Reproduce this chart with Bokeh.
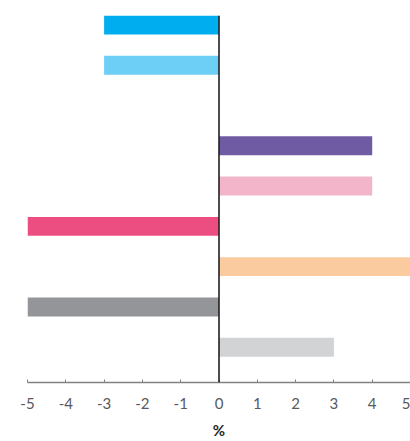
from bokeh.plotting import figure
from bokeh.models import Range1d, Span, ColumnDataSource, FixedTicker
from bokeh.embed import file_html
from bokeh.resources import INLINE

categories = ["A", "B", "C", "D", "E", "F", "G", "H", "I"]
values = [-3, -3, 0, 4, 4, -5, 5, -5, 3]
colors = ["#00AEEF", "#6DCFF6", "#FFFFFF", "#6F5BA3", "#F2B5CA",
          "#EC4E82", "#FACB9F", "#939598", "#D1D3D4"]
ticks = [-5, -4, -3, -2, -1, 0, 1, 2, 3, 4, 5]
tick_labels = ["-5", "-4", "-3", "-2", "-1", "0", "1", "2", "3", "4", "5"]

src = ColumnDataSource(dict(
    y=list(range(len(categories))),
    cat=categories,
    left=[0] * len(values),
    right=values,
    color=colors,
))

p = figure(width=410, height=441, output_backend="svg", toolbar_location=None,
           x_range=Range1d(-5, 5), y_range=Range1d(8.876, -0.235),
           y_axis_location=None, min_border_left=27, min_border_right=0,
           min_border_top=15, min_border_bottom=0)

p.hbar(y="y", left="left", right="right", height=0.47, color="color",
       line_color=None, source=src)

p.add_layout(Span(location=0, dimension="height", line_color="#231F20",
                  line_width=1.6))

p.xgrid.visible = False
p.ygrid.visible = False
p.outline_line_color = None
p.background_fill_color = "white"
p.border_fill_color = "white"

ax = p.xaxis[0]
ax.ticker = FixedTicker(ticks=ticks)
ax.major_label_overrides = {t: s for t, s in zip(ticks, tick_labels)}
ax.axis_line_color = "#808285"
ax.axis_line_width = 1.5
ax.major_tick_line_color = "#808285"
ax.major_tick_in = 3
ax.major_tick_out = 0
ax.minor_tick_line_color = None
ax.major_label_text_font = "Lato"
ax.major_label_text_font_size = "15px"
ax.major_label_text_color = "#58595B"
ax.major_label_standoff = 15
ax.axis_label = "%"
ax.axis_label_text_font = "Lato"
ax.axis_label_text_font_style = "bold"
ax.axis_label_text_font_size = "15px"
ax.axis_label_text_color = "#231F20"
ax.axis_label_standoff = 9

open("out.html", "w").write(file_html(p, INLINE))
